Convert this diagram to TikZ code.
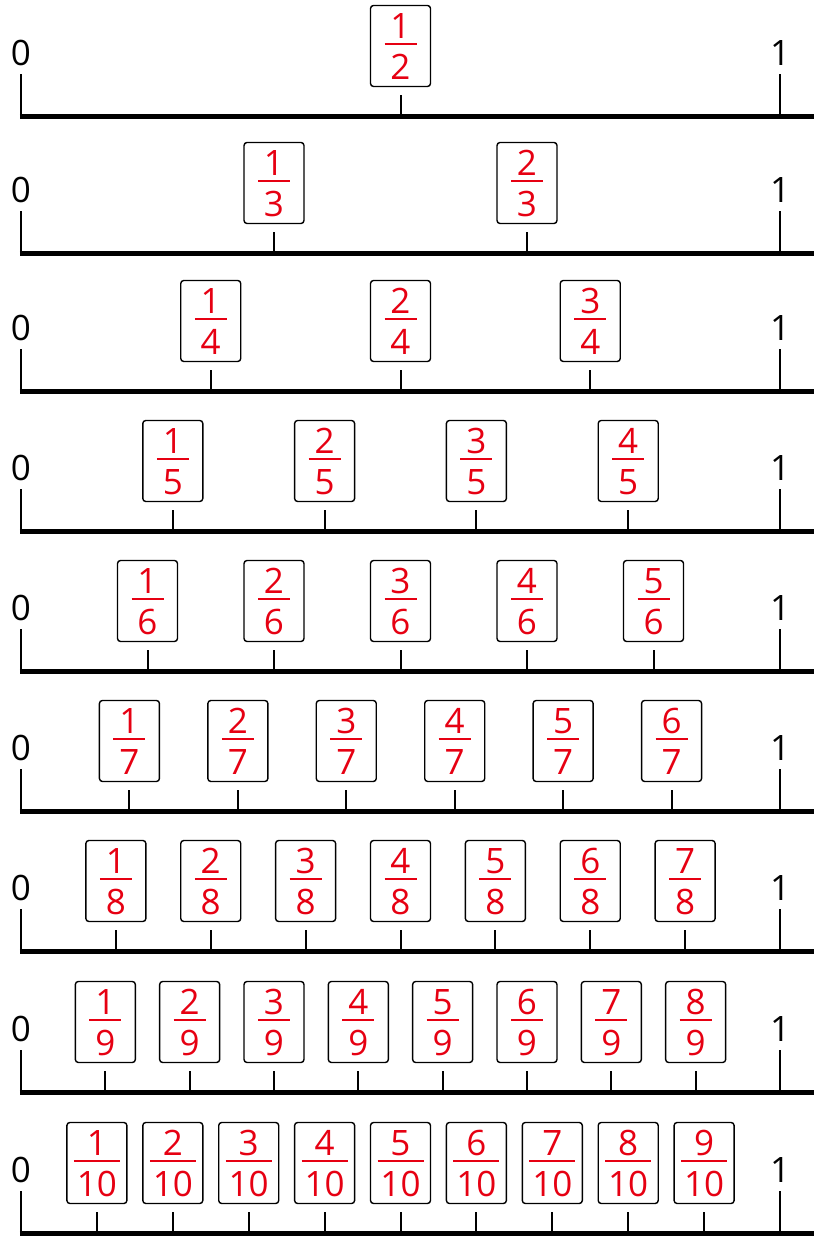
\documentclass[tikz,border=0pt]{standalone}
\usepackage{fontspec}
\setmainfont{Open Sans}
\usetikzlibrary{positioning,calc}
\definecolor{fracred}{RGB}{230,0,18}

\begin{document}
\begin{tikzpicture}[
    x=1pt, y=1pt,
    numline/.style={line width=5pt},
    endline/.style={line width=2.5pt},
    tick/.style={line width=2pt},
    fracbox/.style={draw, line width=1.4pt, rounded corners=3pt, minimum width=60pt, minimum height=81pt, inner sep=0pt},
    digit/.style={inner sep=0pt, anchor=base, font=\fontsize{35}{35}\selectfont},
    reddigit/.style={digit, text=fracred},
    fracbar/.style={draw=fracred, line width=1.5pt}
]

    \useasboundingbox (0,0) rectangle (814,1240);

    % one number line per denominator
    \foreach \d/\ly in {2/1123, 3/986, 4/848, 5/708, 6/568, 7/428, 8/288, 9/147, 10/6} {
        \coordinate (L\d) at (19.75,\ly);
        \coordinate (R\d) at (814,\ly);
        \coordinate (Z\d) at (21,\ly);
        \coordinate (E\d) at (780,\ly);

        \draw[numline] (L\d) -- (R\d);
        \draw[endline] (Z\d) -- ($(Z\d)+(0,43)$);
        \draw[endline] (E\d) -- ($(E\d)+(0,43)$);
        \node[digit] (zero\d) at ($(Z\d)+(0,51.5)$) {0};
        \node[digit] (one\d)  at ($(E\d)+(0,51.5)$) {1};

        \pgfmathtruncatemacro\m{\d-1}
        \pgfmathsetmacro\bw{\d<10 ? 16 : 23}
        \foreach \n in {1,...,\m} {
            \pgfmathsetmacro\tx{21+759*\n/\d}
            \coordinate (T\d-\n) at (\tx,\ly);
            \draw[tick] (T\d-\n) -- ($(T\d-\n)+(0,22)$);
            \node[fracbox] (B\d-\n) at ($(T\d-\n)+(0,71)$) {};
            \node[reddigit] (N\d-\n) at ($(B\d-\n.center)+(0,7.5)$) {\n};
            \node[reddigit] (D\d-\n) at ($(B\d-\n.center)+(0,-33.5)$) {\d};
            \draw[fracbar] ($(B\d-\n.center)+(-\bw,2)$) -- ($(B\d-\n.center)+(\bw,2)$);
        }
    }

\end{tikzpicture}
\end{document}
